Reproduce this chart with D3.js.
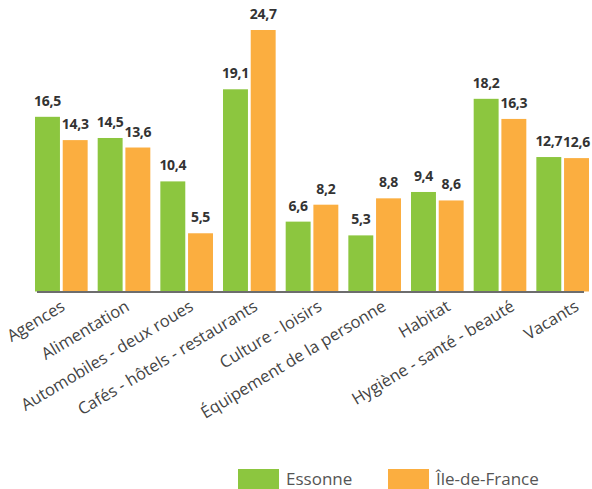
<!DOCTYPE html>
<html>
<head>
<meta charset="utf-8">
<script src="https://cdn.jsdelivr.net/npm/d3@7"></script>
<style>
  body { margin: 0; background: #fff; }
  svg { display: block; font-family: "Open Sans", "Noto Sans", sans-serif; }
</style>
</head>
<body>
<div id="chart"></div>
<script>
// données
const categories = ["Agences", "Alimentation", "Automobiles - deux roues", "Cafés - hôtels - restaurants",
  "Culture - loisirs", "Équipement de la personne", "Habitat", "Hygiène - santé - beauté", "Vacants"];
const essonne = [16.5, 14.5, 10.4, 19.1, 6.6, 5.3, 9.4, 18.2, 12.7];
const idf = [14.3, 13.6, 5.5, 24.7, 8.2, 8.8, 8.6, 16.3, 12.6];
const seriesNames = ["Essonne", "Île-de-France"];
const colors = ["#8cc63f", "#fbae40"];

const width = 592, height = 489;
const baseY = 291.5;

const svg = d3.select("#chart").append("svg")
    .attr("width", width).attr("height", height);

const x0 = d3.scaleBand()
    .domain(categories)
    .range([30, 594])
    .paddingInner(0.16)
    .paddingOuter(0.08);

// les étiquettes de l'axe sont un peu décalées vers la droite
const xLab = d3.scaleBand()
    .domain(categories)
    .range([34, 612])
    .paddingInner(0.16)
    .paddingOuter(0.08);

const x1 = d3.scaleBand()
    .domain(seriesNames)
    .range([0, x0.bandwidth()])
    .paddingInner(0.1);

const y = d3.scaleLinear()
    .domain([0, 24.7])
    .range([baseY, 30]);

const fmt = v => d3.format(".1f")(v).replace(".", ",");

const data = categories.map((c, i) => ({cat: c, vals: [essonne[i], idf[i]]}));

const groups = svg.append("g").selectAll("g")
    .data(data)
    .enter().append("g")
    .attr("transform", d => `translate(${x0(d.cat)},0)`);

groups.selectAll("rect")
    .data(d => d.vals.map((v, j) => ({s: seriesNames[j], v: v, j: j})))
    .enter().append("rect")
    .attr("x", d => x1(d.s))
    .attr("y", d => y(d.v))
    .attr("width", x1.bandwidth())
    .attr("height", d => baseY - y(d.v))
    .attr("fill", d => colors[d.j]);

groups.selectAll("text")
    .data(d => d.vals.map((v, j) => ({s: seriesNames[j], v: v})))
    .enter().append("text")
    .attr("x", d => x1(d.s) + x1.bandwidth() / 2)
    .attr("y", d => y(d.v) - 11)
    .attr("text-anchor", "middle")
    .style("font-size", "14px")
    .style("font-weight", "bold")
    .style("letter-spacing", "-0.3px")
    .style("fill", "#333")
    .text(d => fmt(d.v));

// axe
svg.append("line")
    .attr("x1", 37).attr("x2", 584)
    .attr("y1", baseY + 0.5).attr("y2", baseY + 0.5)
    .attr("stroke", "#6d6d6d")
    .attr("stroke-width", 2);

svg.append("g").selectAll("text")
    .data(categories)
    .enter().append("text")
    .attr("transform", d => `translate(${xLab(d) + xLab.bandwidth() / 2},${baseY + 18}) rotate(-31)`)
    .attr("text-anchor", "end")
    .style("font-size", "16.5px")
    .style("fill", "#444")
    .text(d => d);

// légende
const legend = svg.append("g").selectAll("g")
    .data(seriesNames)
    .enter().append("g")
    .attr("transform", (d, i) => `translate(${238 + i * 150},469)`);

legend.append("rect")
    .attr("width", 41).attr("height", 20)
    .attr("fill", (d, i) => colors[i]);

legend.append("text")
    .attr("x", 48).attr("y", 16)
    .style("font-size", "17px")
    .style("fill", "#555")
    .text(d => d);
</script>
</body>
</html>
